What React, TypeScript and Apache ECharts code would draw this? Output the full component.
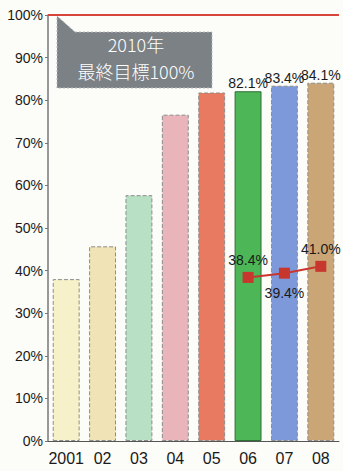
import React, { useEffect, useRef } from "react";
import * as echarts from "echarts";

const years = ["2001", "02", "03", "04", "05", "06", "07", "08"];
const rates = [38.0, 45.7, 57.7, 76.6, 81.8, 82.1, 83.4, 84.1];
const barColors = ["#f6f1c8", "#f0e3b5", "#b8e0c4", "#e9b5ba", "#e77a60", "#4db657", "#7d99d9", "#caa677"];
const rateLabels = ["", "", "", "", "", "82.1%", "83.4%", "84.1%"];
const subRates = [null, null, null, null, null, 38.4, 39.4, 41.0];
const subLabelPos = ["top", "top", "top", "top", "top", "top", "bottom", "top"];
const targetValue = 100;
const yTicks = [0, 10, 20, 30, 40, 50, 60, 70, 80, 90, 100];
const targetNote = ["2010年", "最終目標100%"];

export default function App() {
  const ref = useRef<HTMLDivElement>(null);

  useEffect(() => {
    if (!ref.current) return;
    const chart = echarts.init(ref.current, null, { renderer: "svg" });
    const font = "'Liberation Sans', Arial, sans-serif";

    chart.setOption({
      animation: false,
      backgroundColor: "#fcfcf9",
      grid: { left: 48, right: 4, top: 15, bottom: 30 },
      xAxis: {
        type: "category",
        data: years,
        axisLine: { lineStyle: { color: "#555", width: 1 } },
        axisTick: { inside: true, length: 4, lineStyle: { color: "#555" } },
        axisLabel: { interval: 0, color: "#1a1a1a", fontSize: 16, fontFamily: font, margin: 9 },
      },
      yAxis: {
        type: "value",
        min: yTicks[0],
        max: yTicks[yTicks.length - 1],
        interval: 10,
        axisLine: { show: true, lineStyle: { color: "#777", width: 1.5 } },
        axisTick: { show: true, length: 3, lineStyle: { color: "#777" } },
        splitLine: { show: false },
        axisLabel: { formatter: "{value}%", color: "#1a1a1a", fontSize: 14, fontFamily: font, margin: 5 },
      },
      series: [
        {
          type: "bar",
          barWidth: "74%",
          data: rates.map((v, i) => ({
            value: v,
            itemStyle: {
              color: barColors[i],
              borderColor: i === 5 ? "#2f6e35" : "#8c8c8c",
              borderWidth: 1,
              borderType: i === 5 ? "solid" : "dashed",
            },
            label: {
              show: rateLabels[i] !== "",
              formatter: rateLabels[i],
            },
          })),
          label: {
            position: "top",
            distance: 1,
            color: "#1a1a1a",
            fontSize: 14,
            fontFamily: font,
          },
          markLine: {
            silent: true,
            symbol: "none",
            label: { show: false },
            lineStyle: { color: "#d8453a", width: 2, type: "solid" },
            data: [{ yAxis: targetValue }],
          },
          z: 2,
        },
        {
          type: "line",
          data: subRates.map((v, i) => ({
            value: v,
            label: { position: subLabelPos[i], distance: subLabelPos[i] === "bottom" ? 7 : 5 },
          })),
          symbol: "rect",
          symbolSize: 11,
          lineStyle: { color: "#c8372d", width: 2 },
          itemStyle: { color: "#c8372d" },
          label: {
            show: true,
            formatter: (p: any) => `${Number(p.value).toFixed(1)}%`,
            color: "#1a1a1a",
            fontSize: 14,
            fontFamily: font,
          },
          z: 5,
        },
      ],
      graphic: [
        {
          type: "polygon",
          shape: {
            points: [
              [57, 16],
              [75, 32],
              [212, 32],
              [212, 88],
              [57, 88],
            ],
          },
          style: { fill: "#7c8185", stroke: "#b9bcbf", lineWidth: 1, lineDash: [2, 2] },
          z: 10,
        },
        ...targetNote.map((line, i) => ({
          type: "text",
          x: 136,
          y: 44 + i * 27,
          style: {
            text: line,
            fill: "#ffffff",
            fontSize: 18,
            fontFamily: "'Noto Sans CJK JP', sans-serif",
            fontWeight: 300,
            align: "center",
            verticalAlign: "middle",
          },
          z: 11,
        })),
      ],
    });

    return () => chart.dispose();
  }, []);

  return (
    <div
      ref={ref}
      style={{ position: "fixed", left: 0, top: 0, width: 343, height: 471 }}
    />
  );
}
